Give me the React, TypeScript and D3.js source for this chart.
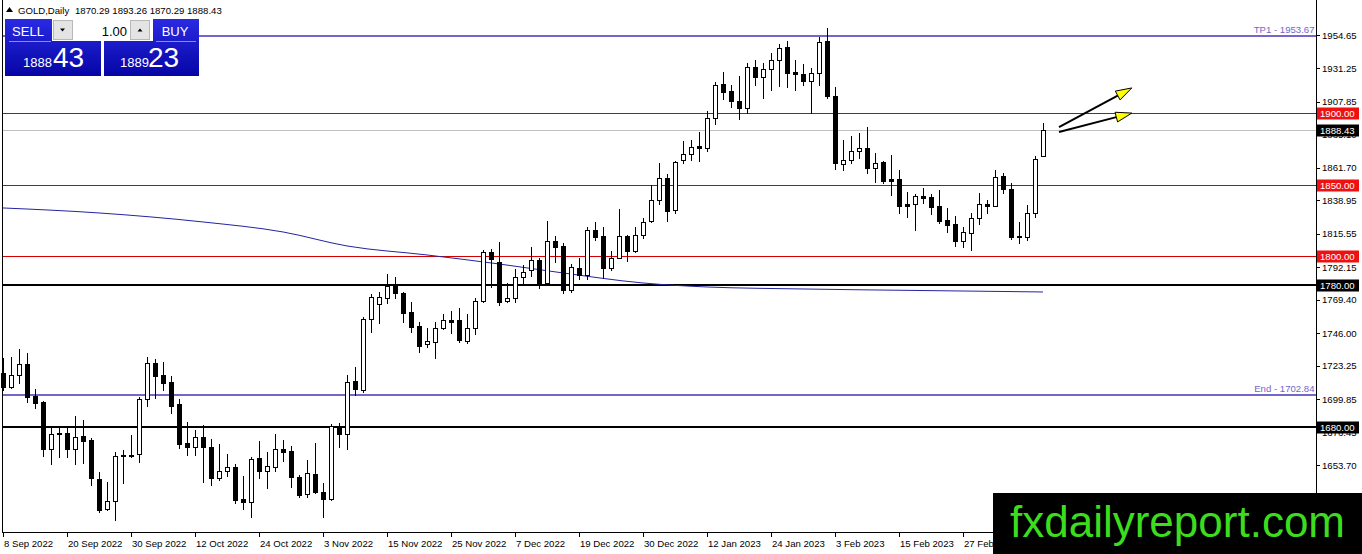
import * as d3 from "d3";

// OHLC per daily bar, 8 Sep 2022 .. 13 Mar 2023
const opens = [
  1718.3, 1708.5, 1716.7, 1724.4, 1702.0, 1698.0, 1664.6, 1675.8, 1675.8, 1664.6,
  1674.0, 1671.2, 1643.6, 1622.6, 1628.7, 1660.4, 1660.4, 1661.1, 1699.6, 1725.3,
  1716.7, 1712.0, 1696.4, 1668.9, 1666.1, 1673.1, 1666.1, 1644.3, 1649.7, 1652.1,
  1629.9, 1628.0, 1658.4, 1649.7, 1652.5, 1664.6, 1663.5, 1645.0, 1633.4, 1647.4,
  1634.6, 1629.7, 1679.4, 1675.4, 1712.7, 1706.2, 1755.9, 1766.2, 1770.8, 1779.2,
  1773.9, 1760.6, 1751.0, 1738.2, 1740.0, 1749.4, 1755.2, 1755.2, 1740.5, 1749.4,
  1768.5, 1802.6, 1796.0, 1768.5, 1770.8, 1785.5, 1790.2, 1797.2, 1780.9, 1810.5,
  1807.0, 1776.2, 1791.8, 1786.7, 1818.2, 1814.0, 1791.8, 1798.8, 1814.0, 1803.5,
  1814.7, 1824.5, 1839.2, 1854.8, 1832.2, 1867.2, 1871.2, 1877.0, 1875.4, 1896.4,
  1920.2, 1915.5, 1908.5, 1903.8, 1932.1, 1925.5, 1930.7, 1937.0, 1946.1, 1928.6,
  1927.2, 1922.7, 1927.9, 1950.7, 1912.0, 1864.2, 1867.2, 1873.5, 1875.4, 1861.4,
  1865.8, 1853.7, 1853.7, 1836.4, 1836.2, 1842.0, 1841.1, 1835.0, 1825.2, 1822.4,
  1810.7, 1816.3, 1826.4, 1836.2, 1835.2, 1856.2, 1846.7, 1814.0, 1813.5, 1830.3,
  1870.29,
];
const highs = [
  1728.6, 1729.5, 1734.6, 1731.8, 1706.6, 1698.7, 1680.0, 1680.0, 1680.0, 1688.0,
  1685.2, 1672.3, 1649.0, 1642.0, 1663.0, 1664.2, 1674.7, 1701.0, 1729.5, 1727.7,
  1726.0, 1716.0, 1699.6, 1684.0, 1678.2, 1681.7, 1671.7, 1668.4, 1661.4, 1654.4,
  1646.0, 1659.0, 1670.7, 1663.0, 1675.4, 1671.2, 1667.0, 1646.7, 1657.2, 1669.3,
  1640.9, 1682.4, 1683.3, 1716.7, 1722.5, 1757.5, 1773.2, 1775.0, 1787.2, 1785.5,
  1775.0, 1768.0, 1753.6, 1749.4, 1753.6, 1759.2, 1761.5, 1763.4, 1759.2, 1770.4,
  1804.2, 1804.9, 1809.6, 1780.9, 1790.9, 1793.7, 1806.3, 1798.6, 1824.5, 1814.2,
  1808.9, 1794.2, 1798.4, 1820.5, 1823.6, 1820.5, 1803.5, 1832.9, 1814.7, 1820.5,
  1826.4, 1849.7, 1864.9, 1857.2, 1866.5, 1880.5, 1881.2, 1886.6, 1901.5, 1921.6,
  1928.6, 1919.7, 1926.0, 1934.9, 1937.2, 1934.9, 1941.9, 1948.2, 1950.5, 1937.2,
  1934.2, 1931.4, 1953.5, 1959.4, 1918.5, 1881.2, 1884.0, 1885.9, 1890.5, 1872.3,
  1866.5, 1870.7, 1860.2, 1845.0, 1843.4, 1847.4, 1843.4, 1846.2, 1833.4, 1828.0,
  1820.5, 1830.3, 1843.9, 1839.2, 1860.2, 1857.9, 1851.3, 1824.0, 1835.7, 1870.0,
  1893.26,
];
const lows = [
  1706.2, 1707.8, 1711.3, 1697.9, 1693.3, 1660.0, 1654.4, 1659.5, 1659.5, 1654.4,
  1655.3, 1639.7, 1621.0, 1622.2, 1615.2, 1641.3, 1659.5, 1656.0, 1695.0, 1700.3,
  1706.2, 1690.3, 1665.3, 1660.7, 1660.7, 1642.0, 1639.7, 1643.2, 1646.0, 1627.3,
  1622.6, 1617.1, 1644.3, 1637.4, 1649.7, 1656.7, 1638.1, 1631.5, 1631.1, 1633.9,
  1617.1, 1629.2, 1666.5, 1664.6, 1702.7, 1705.0, 1747.0, 1752.9, 1766.9, 1770.4,
  1754.0, 1747.0, 1732.6, 1736.5, 1728.4, 1748.9, 1745.9, 1739.6, 1738.9, 1745.2,
  1768.0, 1778.5, 1765.7, 1767.6, 1768.0, 1780.9, 1786.0, 1777.4, 1780.5, 1796.0,
  1773.9, 1775.0, 1783.9, 1783.9, 1811.2, 1784.4, 1790.2, 1798.5, 1796.5, 1803.0,
  1812.8, 1824.0, 1836.2, 1824.5, 1829.9, 1864.9, 1867.2, 1866.5, 1873.5, 1892.2,
  1909.9, 1904.5, 1895.9, 1899.9, 1919.7, 1910.8, 1916.2, 1919.0, 1918.5, 1916.2,
  1919.7, 1899.9, 1919.7, 1910.4, 1860.9, 1860.2, 1864.9, 1868.8, 1857.9, 1852.0,
  1850.9, 1842.7, 1830.3, 1827.1, 1818.2, 1836.9, 1829.4, 1823.3, 1817.0, 1807.0,
  1806.5, 1804.2, 1822.4, 1829.9, 1834.8, 1844.3, 1811.7, 1808.9, 1811.2, 1827.5,
  1870.29,
];
const closes = [
  1708.5, 1716.7, 1724.4, 1701.5, 1697.3, 1664.6, 1675.1, 1675.6, 1664.6, 1673.5,
  1670.7, 1644.3, 1622.2, 1628.7, 1660.0, 1660.2, 1660.7, 1699.6, 1725.3, 1716.0,
  1711.3, 1695.0, 1668.4, 1666.1, 1673.1, 1666.5, 1644.3, 1649.7, 1652.1, 1629.2,
  1628.0, 1657.9, 1649.7, 1653.0, 1664.6, 1662.8, 1645.0, 1632.7, 1647.9, 1635.0,
  1629.7, 1681.0, 1675.4, 1712.0, 1706.9, 1755.9, 1771.5, 1771.5, 1779.2, 1773.9,
  1759.9, 1750.5, 1737.2, 1740.5, 1749.4, 1755.0, 1754.0, 1741.2, 1749.4, 1768.5,
  1802.6, 1797.9, 1768.0, 1770.8, 1785.5, 1789.0, 1797.2, 1780.9, 1810.5, 1806.5,
  1776.2, 1792.5, 1786.7, 1818.2, 1813.5, 1791.8, 1798.4, 1814.0, 1803.5, 1814.7,
  1823.6, 1839.2, 1854.4, 1831.5, 1865.6, 1871.2, 1876.5, 1875.4, 1896.4, 1919.7,
  1915.0, 1908.5, 1903.4, 1932.1, 1925.5, 1930.7, 1937.2, 1945.4, 1928.3, 1927.4,
  1922.7, 1927.9, 1949.6, 1912.0, 1864.9, 1867.2, 1873.5, 1875.4, 1861.4, 1865.3,
  1852.7, 1852.7, 1835.0, 1835.2, 1842.0, 1840.8, 1834.5, 1824.7, 1821.7, 1810.7,
  1817.0, 1826.4, 1836.2, 1835.2, 1855.5, 1846.7, 1813.1, 1813.1, 1830.3, 1867.7,
  1888.43,
];

const dateLabels = [
  "8 Sep 2022", "20 Sep 2022", "30 Sep 2022", "12 Oct 2022", "24 Oct 2022",
  "3 Nov 2022", "15 Nov 2022", "25 Nov 2022", "7 Dec 2022", "19 Dec 2022",
  "30 Dec 2022", "12 Jan 2023", "24 Jan 2023", "3 Feb 2023", "15 Feb 2023",
  "27 Feb 2023",
];
const barsPerLabel = 8;

const priceTicks = [
  1954.65, 1931.25, 1907.85, 1885.1, 1861.7, 1838.95, 1815.55, 1792.15,
  1769.4, 1746.0, 1723.25, 1699.85, 1676.45, 1653.7,
];

// moving average, sampled at bar indices
const maBars = [0, 12, 25, 35, 43, 53, 62, 70, 80, 88, 100, 115, 130];
const maValues = [
  1833.6, 1830.1, 1823.8, 1816.8, 1807.0, 1800.7, 1794.4, 1788.1, 1781.1,
  1778.3, 1776.9, 1775.8, 1774.8,
];

const redLevels = [1900, 1850, 1800];
const blackLevels = [1780, 1680];
const targetNames = ["TP1", "End"];
const targetValues = [1953.67, 1702.84];
const lastPrice = 1888.43;

// projection arrows: [barFrom, priceFrom, barTo, priceTo]
const arrows = [
  [132, 1890.2, 141.1, 1917.6],
  [132, 1886.8, 141.1, 1900.0],
];

const symbol = "GOLD,Daily";
const headerOhlc = [1870.29, 1893.26, 1870.29, 1888.43];
const lotSize = "1.00";
const sellQuote = ["1888", "43"];
const buyQuote = ["1889", "23"];
const watermark = "fxdailyreport.com";

const W = 1362;
const H = 554;
const plotLeft = 2.5;
const plotRight = 1316.5;
const plotBottom = 532.5;
const font = "'Liberation Sans', Arial, sans-serif";

export default function App() {
  const n = closes.length;
  const x = d3.scaleLinear().domain([0, n - 1]).range([3, 3 + 8 * (n - 1)]);
  const y = d3.scaleLinear().domain([1653.7, 1954.65]).range([465, 35]);
  const yr = (v: number) => Math.round(y(v)) + 0.5;

  const maLine = d3
    .line<number>()
    .x((_, i) => x(maBars[i]))
    .y((d) => y(d))
    .curve(d3.curveMonotoneX);

  const bars = d3.range(n).map((i) => ({
    i,
    o: opens[i],
    h: highs[i],
    l: lows[i],
    c: closes[i],
  }));

  return (
    <div style={{ position: "fixed", left: 0, top: 0 }}>
      <svg width={W} height={H} style={{ display: "block", background: "#fff" }}>
        <defs>
          <linearGradient id="btn" x1="0" y1="0" x2="0" y2="1">
            <stop offset="0" stopColor="#2a2ae2" />
            <stop offset="1" stopColor="#0505a6" />
          </linearGradient>
        </defs>
        <rect x={0} y={0} width={W} height={H} fill="#fff" />

        {/* level lines */}
        <g shapeRendering="crispEdges">
          {targetValues.map((v, k) => (
            <line key={`t${k}`} x1={plotLeft} x2={plotRight} y1={y(v)} y2={y(v)} stroke="#7466cc" strokeWidth={2} />
          ))}
          {redLevels.map((v) => (
            <line key={`r${v}`} x1={plotLeft} x2={plotRight} y1={yr(v)} y2={yr(v)} stroke="#d40000" strokeWidth={1} />
          ))}
          <line x1={plotLeft} x2={plotRight} y1={yr(lastPrice)} y2={yr(lastPrice)} stroke="#c0c0c0" strokeWidth={1} />
          {blackLevels.map((v) => (
            <line key={`b${v}`} x1={plotLeft} x2={plotRight} y1={y(v)} y2={y(v)} stroke="#000" strokeWidth={2} />
          ))}
        </g>
        {targetValues.map((v, k) => (
          <text key={`tl${k}`} x={plotRight - 2} y={y(v) - 3} textAnchor="end" fontFamily={font} fontSize={9.6} fill="#7466cc">
            {`${targetNames[k]} - ${v.toFixed(2)}`}
          </text>
        ))}

        {/* moving average */}
        <path d={maLine(maValues) || ""} fill="none" stroke="#2424a0" strokeWidth={1} />

        {/* candles */}
        <g shapeRendering="crispEdges">
          {bars.map((d) => {
            const cx = Math.round(x(d.i));
            const top = Math.round(y(Math.max(d.o, d.c)));
            const bot = Math.round(y(Math.min(d.o, d.c)));
            const bull = d.c >= d.o;
            return (
              <g key={d.i}>
                <line x1={cx + 0.5} x2={cx + 0.5} y1={Math.round(y(d.h))} y2={Math.round(y(d.l)) + 1} stroke="#000" />
                {bull ? (
                  <rect x={cx - 1.5} y={top + 0.5} width={4} height={Math.max(bot - top, 1)} fill="#fff" stroke="#000" />
                ) : (
                  <rect x={cx - 2} y={top} width={5} height={Math.max(bot - top, 1) + 1} fill="#000" />
                )}
              </g>
            );
          })}
        </g>

        {/* arrows */}
        {arrows.map((a, k) => {
          const x0 = x(a[0]);
          const y0 = y(a[1]);
          const x1 = x(a[2]);
          const y1 = y(a[3]);
          const ang = Math.atan2(y1 - y0, x1 - x0);
          const len = 16;
          const hw = 5;
          const bx = x1 - len * Math.cos(ang);
          const by = y1 - len * Math.sin(ang);
          const px = -Math.sin(ang) * hw;
          const py = Math.cos(ang) * hw;
          return (
            <g key={`a${k}`}>
              <line x1={x0} y1={y0} x2={bx} y2={by} stroke="#000" strokeWidth={2} />
              <path d={`M${x1},${y1}L${bx + px},${by + py}L${bx - px},${by - py}Z`} fill="#ffff00" stroke="#000" strokeWidth={1} strokeLinejoin="round" />
            </g>
          );
        })}

        {/* frame and axes */}
        <g shapeRendering="crispEdges" stroke="#000">
          <line x1={plotLeft} x2={plotLeft} y1={0} y2={plotBottom} />
          <line x1={plotRight} x2={plotRight} y1={0} y2={plotBottom} />
          <line x1={plotLeft} x2={plotRight} y1={plotBottom} y2={plotBottom} />
          {priceTicks.map((v) => (
            <line key={`yt${v}`} x1={plotRight} x2={plotRight + 3} y1={yr(v)} y2={yr(v)} />
          ))}
          {dateLabels.map((_, k) => (
            <line key={`xt${k}`} x1={Math.round(x(k * barsPerLabel)) + 0.5} x2={Math.round(x(k * barsPerLabel)) + 0.5} y1={plotBottom} y2={plotBottom + 4} />
          ))}
        </g>
        {priceTicks.map((v) => (
          <text key={`yl${v}`} x={1322} y={y(v)} dominantBaseline="central" fontFamily={font} fontSize={9.6} fill="#000">
            {v.toFixed(2)}
          </text>
        ))}
        {dateLabels.map((s, k) => (
          <text key={`xl${k}`} x={x(k * barsPerLabel) + 1} y={547} fontFamily={font} fontSize={9.6} fill="#000">
            {s}
          </text>
        ))}

        {/* price boxes on the axis */}
        {[...redLevels.map((v) => ({ v, c: "#ee1111" })), ...blackLevels.map((v) => ({ v, c: "#000" })), { v: lastPrice, c: "#000" }].map((b) => (
          <g key={`box${b.v}`}>
            <rect x={1317} y={Math.round(y(b.v)) - 5.5} width={42} height={12} fill={b.c} />
            <text x={1320} y={y(b.v) + 0.5} dominantBaseline="central" fontFamily={font} fontSize={9.6} fill="#fff">
              {b.v.toFixed(2)}
            </text>
          </g>
        ))}

        {/* header */}
        <path d="M6,12L9.5,7L13,12Z" fill="#000" />
        <text x={18} y={14} fontFamily={font} fontSize={9.6} fill="#000">
          {symbol}
        </text>
        <text x={75} y={14} fontFamily={font} fontSize={9.6} fill="#000">
          {headerOhlc.map((v) => v.toFixed(2)).join(" ")}
        </text>

        {/* one-click trading panel */}
        <g fontFamily={font}>
          <rect x={5} y={19} width={96} height={57} fill="url(#btn)" />
          <rect x={104} y={19} width={95} height={57} fill="url(#btn)" />
          <line x1={9} x2={51} y1={41.5} y2={41.5} stroke="#8a8af0" />
          <line x1={156} x2={196} y1={41.5} y2={41.5} stroke="#8a8af0" />
          <text x={28} y={31} textAnchor="middle" dominantBaseline="central" fontSize={13} fill="#fff">SELL</text>
          <text x={175} y={31} textAnchor="middle" dominantBaseline="central" fontSize={13} fill="#fff">BUY</text>
          <rect x={52} y={19} width={101} height={22} fill="#fff" />
          <rect x={53.5} y={20.5} width={19} height={19} fill="#e4e4e4" stroke="#b8b8b8" />
          <rect x={130.5} y={20.5} width={19} height={19} fill="#e4e4e4" stroke="#b8b8b8" />
          <path d="M60,28.5L65,28.5L62.5,31.5Z" fill="#000" />
          <path d="M137.5,31.5L142.5,31.5L140,28.5Z" fill="#000" />
          <text x={127} y={31} textAnchor="end" dominantBaseline="central" fontSize={13} fill="#000">{lotSize}</text>
          <text x={23} y={67} fontSize={13} fill="#fff">{sellQuote[0]}</text>
          <text x={53} y={67} fontSize={28} fill="#fff">{sellQuote[1]}</text>
          <text x={120} y={67} fontSize={13} fill="#fff">{buyQuote[0]}</text>
          <text x={148} y={67} fontSize={28} fill="#fff">{buyQuote[1]}</text>
        </g>

        {/* watermark */}
        <rect x={993} y={493} width={W - 993} height={H - 493} fill="#000" />
        <text x={1010} y={537} fontFamily={font} fontSize={44} fill="#3cdc1e">
          {watermark}
        </text>
      </svg>
    </div>
  );
}
